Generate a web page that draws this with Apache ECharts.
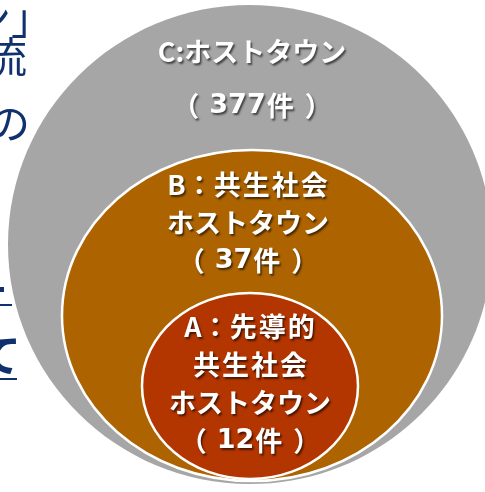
<!DOCTYPE html>
<html><head><meta charset="utf-8">
<script src="https://cdn.jsdelivr.net/npm/echarts@6/dist/echarts.min.js"></script>
<style>html,body{margin:0;padding:0;background:#fff}#c{width:485px;height:492px}</style>
</head><body><div id="c"></div>
<script>
// ---- data ----
const categories = ['C', 'B', 'A'];
const separators = [':', '：', '：'];
const nameLines = [
  ['ホストタウン'],
  ['共生社会', 'ホストタウン'],
  ['先導的', '共生社会', 'ホストタウン']
];
const counts = [377, 37, 12];
const unit = '件';

// ---- layout (pixel space of the 485x492 canvas) ----
const layout = [
  { cx: 250, cy: 244.5, rx: 242, ry: 239.5, fill: '#A6A6A6', stroke: null, tx: 252, ty: 79, lh: 54 },
  { cx: 252, cy: 315.5, rx: 190, ry: 165.5, fill: '#AD6300', stroke: '#ffffff', tx: 248, ty: 223, lh: 38 },
  { cx: 250, cy: 386, rx: 108, ry: 93, fill: '#B33500', stroke: '#ffffff', tx: 250, ty: 384, lh: 38 }
];

const FONT = '"Noto Sans CJK JP", "Noto Sans", sans-serif';
const NAVY = '#10306E';

// wrap kanji so they get a little extra tracking, digits in a wide face
function markLine(s) {
  let out = '';
  for (const ch of s) {
    if (/[\u4e00-\u9fff]/.test(ch)) out += '{k|' + ch + '}';
    else if (/[0-9]/.test(ch)) out += '{n|' + ch + '}';
    else if (ch === '（') out += '{pl|' + ch + '}';
    else if (ch === '）') out += '{pr|' + ch + '}';
    else out += '{t|' + ch + '}';
  }
  return out;
}
function labelOf(i) {
  const lines = nameLines[i].slice();
  lines[0] = categories[i] + separators[i] + lines[0];
  lines.push('（' + counts[i] + unit + '）');
  return lines.map(markLine).join('\n');
}

const chart = echarts.init(document.getElementById('c'), null, { renderer: 'canvas' });

chart.setOption({
  animation: false,
  grid: { left: 0, right: 0, top: 0, bottom: 0 },
  xAxis: { type: 'value', min: 0, max: 485, show: false },
  yAxis: { type: 'value', min: 0, max: 492, inverse: true, show: false },
  graphic: [
    { type: 'text', x: 53, y: -3, style: { text: 'ン」', font: '42px ' + FONT, fill: NAVY, align: 'right', verticalAlign: 'top' } },
    { type: 'text', x: 27, y: 36, style: { text: '流', font: '42px ' + FONT, fill: NAVY, align: 'right', verticalAlign: 'top' } },
    { type: 'text', x: 30, y: 102, style: { text: 'の', font: '42px ' + FONT, fill: NAVY, align: 'right', verticalAlign: 'top' } },
    { type: 'rect', shape: { x: 0, y: 287, width: 4, height: 5 }, style: { fill: NAVY } },
    { type: 'rect', shape: { x: 0, y: 304, width: 12, height: 2 }, style: { fill: NAVY } },
    { type: 'text', x: 21, y: 333, style: { text: 'て', font: 'bold 44px ' + FONT, fill: NAVY, align: 'right', verticalAlign: 'top' } },
    { type: 'rect', shape: { x: 0, y: 378, width: 17, height: 2 }, style: { fill: NAVY } }
  ],
  series: [{
    type: 'custom',
    coordinateSystem: 'cartesian2d',
    clip: false,
    data: categories.map((c, i) => ({ name: c, value: [i, counts[i]] })),
    renderItem: function (params, api) {
      const i = api.value(0);
      const L = layout[i];
      const c = api.coord([L.cx, L.cy]);
      const s = api.size([L.rx, L.ry]);
      const t = api.coord([L.tx, L.ty]);
      const base = {
        font: 'bold 27px ' + FONT, fill: '#fff', lineHeight: L.lh,
        textShadowColor: 'rgba(0,0,0,0.6)',
        textShadowBlur: 2,
        textShadowOffsetX: 1.5,
        textShadowOffsetY: 1.5
      };
      const ell = {
        type: 'ellipse',
        shape: { cx: c[0], cy: c[1], rx: s[0], ry: s[1] },
        style: { fill: L.fill, stroke: L.stroke || null, lineWidth: L.stroke ? 2.5 : 0 }
      };
      const txt = {
        type: 'text',
        z2: 10,
        style: {
          text: labelOf(i),
          x: t[0], y: t[1],
          align: 'center', verticalAlign: 'middle',
          font: 'bold 27px ' + FONT,
          lineHeight: L.lh,
          fill: '#ffffff',
          rich: {
            t: Object.assign({}, base),
            k: Object.assign({}, base, { padding: [0, 1] }),
            pl: Object.assign({}, base, { padding: [0, 10, 0, 0] }),
            pr: Object.assign({}, base, { padding: [0, 0, 0, 10] }),
            n: Object.assign({}, base, { font: 'bold 27px "DejaVu Sans", sans-serif' })
          }
        }
      };
      return { type: 'group', children: [ell, txt] };
    }
  }]
});
</script>
</body></html>
